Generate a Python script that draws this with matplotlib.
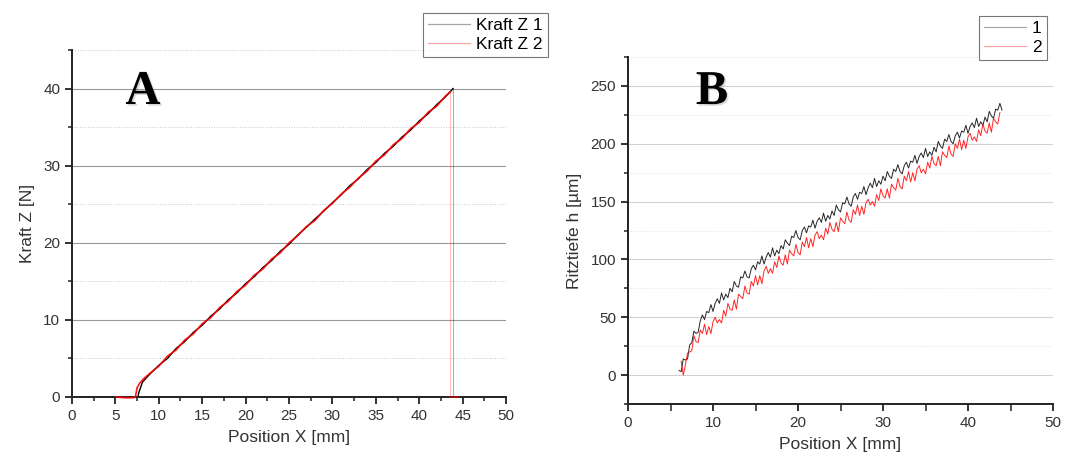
import numpy as np
import matplotlib.pyplot as plt
import matplotlib.patheffects as pe
from matplotlib.ticker import MultipleLocator

plt.rcParams['font.family'] = ['Liberation Sans', 'DejaVu Sans']

# ---------------- data: panel A (Kraft Z) ----------------
kraft1_x = [7.6, 7.7, 7.9, 8.1, 8.5, 9, 10, 11, 12, 13, 14, 15, 16, 17, 18, 19, 20,
            21, 22, 23, 24, 25, 26, 27, 28, 29, 30, 31, 32, 33, 34, 35, 36, 37,
            38, 39, 40, 41, 42, 43, 43.9, 43.9]
kraft1_y = [0.0, 0.6, 1.2, 1.9, 2.4, 3.0, 4.1, 5.0, 6.3, 7.2, 8.4, 9.3, 10.5, 11.4,
            12.6, 13.5, 14.7, 15.6, 16.8, 17.7, 18.9, 19.8, 21.0, 22.0, 23.1, 24.1,
            25.2, 26.2, 27.4, 28.3, 29.5, 30.4, 31.6, 32.5, 33.7, 34.6, 35.8, 36.7,
            37.9, 38.9, 40.0, 0.0]

kraft2_x = [5.1, 6.0, 7.0, 7.3, 7.5, 7.8, 8.2, 8.5, 9, 10, 11, 12, 13, 14, 15, 16,
            17, 18, 19, 20, 21, 22, 23, 24, 25, 26, 27, 28, 29, 30, 31, 32, 33, 34,
            35, 36, 37, 38, 39, 40, 41, 42, 43, 43.6, 43.6, 44.6]
kraft2_y = [0.0, -0.1, -0.1, 0.0, 1.2, 1.8, 2.3, 2.6, 3.1, 4.0, 5.3, 6.1, 7.4, 8.2,
            9.5, 10.3, 11.6, 12.4, 13.7, 14.5, 15.8, 16.6, 17.9, 18.7, 20.0, 20.9,
            22.1, 22.9, 24.2, 25.1, 26.3, 27.2, 28.4, 29.3, 30.6, 31.4, 32.7, 33.5,
            34.8, 35.6, 36.9, 37.7, 39.0, 39.6, 0.0, 0.0]

# ---------------- data: panel B (Ritztiefe h) ----------------
tiefe1_x = [6.0, 6.25, 6.5, 6.75, 7.0, 7.25, 7.5, 7.75, 8.0, 8.25, 8.5, 8.75,
            9.0, 9.25, 9.5, 9.75, 10.0, 10.25, 10.5, 10.75, 11.0, 11.25, 11.5, 11.75,
            12.0, 12.25, 12.5, 12.75, 13.0, 13.25, 13.5, 13.75, 14.0, 14.25, 14.5, 14.75,
            15.0, 15.25, 15.5, 15.75, 16.0, 16.25, 16.5, 16.75, 17.0, 17.25, 17.5, 17.75,
            18.0, 18.25, 18.5, 18.75, 19.0, 19.25, 19.5, 19.75, 20.0, 20.25, 20.5, 20.75,
            21.0, 21.25, 21.5, 21.75, 22.0, 22.25, 22.5, 22.75, 23.0, 23.25, 23.5, 23.75,
            24.0, 24.25, 24.5, 24.75, 25.0, 25.25, 25.5, 25.75, 26.0, 26.25, 26.5, 26.75,
            27.0, 27.25, 27.5, 27.75, 28.0, 28.25, 28.5, 28.75, 29.0, 29.25, 29.5, 29.75,
            30.0, 30.25, 30.5, 30.75, 31.0, 31.25, 31.5, 31.75, 32.0, 32.25, 32.5, 32.75,
            33.0, 33.25, 33.5, 33.75, 34.0, 34.25, 34.5, 34.75, 35.0, 35.25, 35.5, 35.75,
            36.0, 36.25, 36.5, 36.75, 37.0, 37.25, 37.5, 37.75, 38.0, 38.25, 38.5, 38.75,
            39.0, 39.25, 39.5, 39.75, 40.0, 40.25, 40.5, 40.75, 41.0, 41.25, 41.5, 41.75,
            42.0, 42.25, 42.5, 42.75, 43.0, 43.25, 43.5, 43.75, 44.0]
tiefe1_y = [4, 3, 14, 13, 14, 26, 28, 38, 36, 37, 47, 52,
            48, 55, 54, 61, 55, 62, 66, 62, 71, 65, 70, 67,
            75, 72, 81, 77, 76, 85, 84, 90, 85, 84, 92, 95,
            91, 98, 96, 103, 96, 102, 106, 102, 110, 103, 108, 105,
            112, 109, 117, 114, 112, 120, 119, 125, 119, 117, 125, 128,
            123, 129, 128, 134, 127, 133, 136, 132, 140, 133, 138, 135,
            142, 138, 147, 143, 141, 149, 148, 154, 148, 146, 154, 157,
            152, 158, 157, 163, 156, 162, 166, 162, 170, 163, 168, 165,
            172, 168, 176, 172, 170, 178, 176, 182, 176, 174, 181, 184,
            179, 185, 184, 190, 183, 189, 192, 188, 196, 189, 193, 190,
            197, 193, 202, 198, 196, 204, 202, 208, 202, 200, 207, 210,
            205, 211, 210, 216, 209, 215, 218, 214, 222, 215, 219, 216,
            223, 219, 228, 224, 222, 230, 229, 235, 229]

tiefe2_x = [6.25, 6.5, 6.75, 7.0, 7.25, 7.5, 7.75, 8.0, 8.25, 8.5, 8.75,
            9.0, 9.25, 9.5, 9.75, 10.0, 10.25, 10.5, 10.75, 11.0, 11.25, 11.5, 11.75,
            12.0, 12.25, 12.5, 12.75, 13.0, 13.25, 13.5, 13.75, 14.0, 14.25, 14.5, 14.75,
            15.0, 15.25, 15.5, 15.75, 16.0, 16.25, 16.5, 16.75, 17.0, 17.25, 17.5, 17.75,
            18.0, 18.25, 18.5, 18.75, 19.0, 19.25, 19.5, 19.75, 20.0, 20.25, 20.5, 20.75,
            21.0, 21.25, 21.5, 21.75, 22.0, 22.25, 22.5, 22.75, 23.0, 23.25, 23.5, 23.75,
            24.0, 24.25, 24.5, 24.75, 25.0, 25.25, 25.5, 25.75, 26.0, 26.25, 26.5, 26.75,
            27.0, 27.25, 27.5, 27.75, 28.0, 28.25, 28.5, 28.75, 29.0, 29.25, 29.5, 29.75,
            30.0, 30.25, 30.5, 30.75, 31.0, 31.25, 31.5, 31.75, 32.0, 32.25, 32.5, 32.75,
            33.0, 33.25, 33.5, 33.75, 34.0, 34.25, 34.5, 34.75, 35.0, 35.25, 35.5, 35.75,
            36.0, 36.25, 36.5, 36.75, 37.0, 37.25, 37.5, 37.75, 38.0, 38.25, 38.5, 38.75,
            39.0, 39.25, 39.5, 39.75, 40.0, 40.25, 40.5, 40.75, 41.0, 41.25, 41.5, 41.75,
            42.0, 42.25, 42.5, 42.75, 43.0, 43.25, 43.5, 43.75]
tiefe2_y = [12, 0, 9, 19, 20, 21, 34, 29, 28, 39, 36,
            44, 35, 42, 36, 46, 50, 45, 48, 45, 56, 51, 62,
            57, 56, 65, 57, 70, 68, 66, 77, 71, 70, 81, 77,
            86, 78, 86, 79, 90, 94, 88, 92, 88, 98, 93, 103,
            97, 95, 104, 96, 108, 105, 103, 113, 106, 104, 115, 111,
            119, 110, 118, 111, 121, 124, 118, 121, 117, 127, 122, 132,
            126, 124, 132, 124, 136, 133, 131, 141, 134, 132, 143, 139,
            147, 138, 146, 139, 149, 152, 147, 150, 146, 156, 151, 161,
            155, 153, 161, 153, 165, 162, 160, 170, 163, 161, 172, 168,
            176, 167, 175, 168, 178, 181, 175, 178, 174, 184, 179, 189,
            183, 181, 189, 181, 193, 190, 188, 198, 191, 189, 200, 196,
            204, 195, 203, 196, 206, 209, 203, 206, 202, 212, 207, 217,
            211, 209, 218, 210, 222, 219, 217, 227]


def style_axes(ax, major_color, minor_color):
    ax.spines['top'].set_visible(False)
    ax.spines['right'].set_visible(False)
    for s in ('left', 'bottom'):
        ax.spines[s].set_linewidth(1.4)
        ax.spines[s].set_color('#222222')
    ax.tick_params(which='major', direction='out', length=5, width=1.3,
                   colors='#222222', labelsize=11, labelcolor='#333333')
    ax.tick_params(which='minor', direction='out', length=3, width=1.1,
                   colors='#222222')
    ax.grid(which='major', axis='y', color=major_color, linewidth=0.8)
    ax.grid(which='minor', axis='y', color=minor_color, linewidth=0.7, linestyle=':')
    ax.set_axisbelow(True)


def style_legend(leg):
    leg.get_frame().set_linewidth(0.8)
    for ln in leg.get_lines():
        ln.set_linewidth(0.9)
        ln.set_alpha(0.35)


fig = plt.figure(figsize=(10.71, 4.59), dpi=100)

# ---- panel A ----
axA = fig.add_axes([0.0672, 0.1351, 0.4053, 0.756])
# main traces, then the faint vertical drop at the end of each run
axA.plot(kraft1_x[:-1], kraft1_y[:-1], color='black', linewidth=1.0, label='Kraft Z 1')
axA.plot(kraft1_x[-2:], kraft1_y[-2:], color='black', linewidth=0.8, alpha=0.3)
axA.plot(kraft2_x[:-2], kraft2_y[:-2], color='red', linewidth=1.2, alpha=0.9,
         label='Kraft Z 2', clip_on=False, zorder=3)
axA.plot(kraft2_x[-3:-1], kraft2_y[-3:-1], color='red', linewidth=0.8, alpha=0.25)
axA.plot(kraft2_x[-2:], kraft2_y[-2:], color='red', linewidth=1.2, alpha=0.6,
         clip_on=False, zorder=3)
axA.set_xlim(0, 50)
axA.set_ylim(0, 45)
axA.xaxis.set_major_locator(MultipleLocator(5))
axA.xaxis.set_minor_locator(MultipleLocator(2.5))
axA.yaxis.set_major_locator(MultipleLocator(10))
axA.yaxis.set_minor_locator(MultipleLocator(5))
style_axes(axA, '#9a9a9a', '#c8c8c8')
axA.set_xlabel('Position X [mm]', fontsize=12.5, color='#333333', labelpad=5)
axA.set_ylabel('Kraft Z [N]', fontsize=12.5, color='#333333', labelpad=6)
legA = axA.legend(loc='upper right', bbox_to_anchor=(548 / 1071, 1 - 13 / 459),
                  bbox_transform=fig.transFigure, fontsize=12.5, frameon=True,
                  fancybox=False, edgecolor='#555555', handlelength=2.4,
                  borderpad=0.3, labelspacing=0.2, handletextpad=0.35,
                  borderaxespad=0)
style_legend(legA)

# ---- panel B ----
axB = fig.add_axes([0.5864, 0.1198, 0.3968, 0.756])
axB.plot(tiefe1_x, tiefe1_y, color='black', linewidth=0.7, alpha=0.85, label='1')
axB.plot(tiefe2_x, tiefe2_y, color='red', linewidth=0.7, alpha=0.85, label='2')
axB.set_xlim(0, 50)
axB.set_ylim(-25, 275)
axB.xaxis.set_major_locator(MultipleLocator(10))
axB.xaxis.set_minor_locator(MultipleLocator(5))
axB.yaxis.set_major_locator(MultipleLocator(50))
axB.yaxis.set_minor_locator(MultipleLocator(25))
style_axes(axB, '#d2d2d2', '#e2e2e2')
axB.tick_params(which='minor', axis='x', length=5)
axB.set_xlabel('Position X [mm]', fontsize=12.5, color='#333333', labelpad=5)
axB.set_ylabel('Ritztiefe h [µm]', fontsize=12.5, color='#333333', labelpad=6)
legB = axB.legend(loc='upper right', bbox_to_anchor=(1047 / 1071, 1 - 16 / 459),
                  bbox_transform=fig.transFigure, fontsize=12.5, frameon=True,
                  fancybox=False, edgecolor='#555555', handlelength=2.4,
                  borderpad=0.3, labelspacing=0.2, handletextpad=0.35,
                  borderaxespad=0)
style_legend(legB)

# panel letters
shadow = [pe.SimplePatchShadow(offset=(1.2, -1.2), alpha=0.15), pe.Normal()]
fig.text(143 / 1071, 1 - 92 / 459, 'A', family='Liberation Serif', fontsize=35,
         fontweight='bold', ha='center', va='center', path_effects=shadow)
fig.text(712 / 1071, 1 - 92 / 459, 'B', family='Liberation Serif', fontsize=35,
         fontweight='bold', ha='center', va='center', path_effects=shadow)

fig.savefig('out.png', dpi=100)
